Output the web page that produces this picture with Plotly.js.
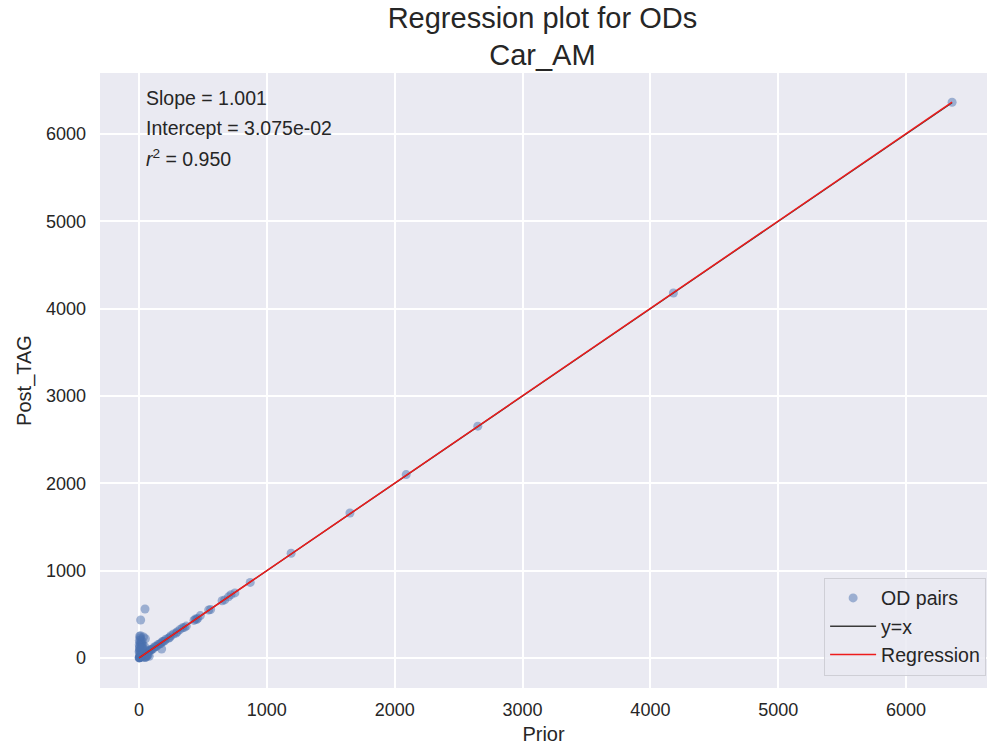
<!DOCTYPE html>
<html>
<head>
<meta charset="utf-8">
<script src="https://cdn.plot.ly/plotly-3.0.1.min.js"></script>
<style>html,body{margin:0;padding:0;background:#fff;}#chart{width:988px;height:749px;}</style>
</head>
<body>
<div id="chart"></div>
<script>
// OD pair values
const priorValues = [6360,4180,2650,2090,1650,1190,870,
  750,720,700,670,650,560,545,480,460,450,440,430,370,355,340,320,300,290,270,250,240,230,210,200,190,180,170,160,150,140,130,120,110,100,95,90,80,75,70,60,55,50,45,40,35,30,25,20,15,10,8,5,3,2,1,
  177,13,47,
  5,10,15,3,8,20,12,2,18,6,25,4,14,9,30,1,22,7,16,11,40,35,50,60,70,80,45,25,30,40,50,35,45,12,6,18,28,4,9,55,65,22];
const postValues = [6365,4180,2655,2100,1660,1200,865,
  745,725,700,665,655,555,550,485,455,440,445,430,365,350,345,325,300,285,275,255,235,225,215,195,190,185,165,160,155,135,130,125,105,100,90,95,85,70,72,65,50,55,40,45,30,32,28,22,14,12,6,4,2,3,1,
  103,435,561,
  250,230,210,200,180,170,160,150,140,130,120,110,100,90,80,70,60,50,40,30,20,10,5,15,30,20,8,190,150,100,220,240,130,255,20,60,45,85,5,25,35,115];
const slope = 1.001;
const intercept = 3.075e-02;
const r2 = 0.950;
const xTicks = [0,1000,2000,3000,4000,5000,6000];
const yTicks = [0,1000,2000,3000,4000,5000,6000];

const xMin = Math.min(...priorValues), xMax = Math.max(...priorValues);
const font = 'Liberation Sans, Arial, sans-serif';
const ink = '#262626';

const traces = [
  {x: priorValues, y: postValues, mode: 'markers', type: 'scatter', name: 'OD pairs',
   marker: {color: 'rgba(76,114,176,0.5)', size: 9, line: {width: 0}}},
  {x: [xMin, xMax], y: [xMin, xMax], mode: 'lines', type: 'scatter', name: 'y=x',
   line: {color: '#3a3a3a', width: 1.3}},
  {x: [xMin, xMax], y: [slope*xMin + intercept, slope*xMax + intercept], mode: 'lines', type: 'scatter', name: 'Regression',
   line: {color: '#ee1c1c', width: 1.5}}
];

const layout = {
  width: 988, height: 749,
  paper_bgcolor: '#ffffff', plot_bgcolor: '#EAEAF2',
  margin: {l: 100, r: 1, t: 73, b: 61},
  font: {family: font, color: ink, size: 18},
  title: {text: 'Regression plot for ODs<br>Car_AM', font: {size: 29, color: ink, family: font},
          x: 0.549, xanchor: 'center', yref: 'container', y: 0.963, yanchor: 'top'},
  showlegend: true,
  legend: {x: 0.999, y: 0.02, xanchor: 'right', yanchor: 'bottom', bgcolor: 'rgba(234,234,242,0.85)',
           bordercolor: '#cfcfd6', borderwidth: 1, font: {size: 19.5, color: ink}, tracegroupgap: 0, itemwidth: 46},
  xaxis: {range: [-305, 6633], tickvals: xTicks, ticktext: xTicks.map(String), showgrid: true, gridcolor: '#ffffff', gridwidth: 2,
          zeroline: false, showline: false, ticks: '', tickfont: {size: 18, color: ink}, ticklabelstandoff: 9,
          title: {text: 'Prior', font: {size: 20, color: ink}, standoff: 7}},
  yaxis: {range: [-344, 6700], tickvals: yTicks, ticktext: yTicks.map(String), showgrid: true, gridcolor: '#ffffff', gridwidth: 2,
          zeroline: false, showline: false, ticks: '', tickfont: {size: 18, color: ink}, ticklabelstandoff: 13,
          title: {text: 'Post_TAG', font: {size: 20, color: ink}, standoff: 8}},
  annotations: [
    {xref: 'paper', yref: 'paper', x: 0.05, y: 0.959, xanchor: 'left', yanchor: 'middle', showarrow: false,
     text: 'Slope = ' + slope.toFixed(3), font: {size: 19.5, color: ink}},
    {xref: 'paper', yref: 'paper', x: 0.05, y: 0.910, xanchor: 'left', yanchor: 'middle', showarrow: false,
     text: 'Intercept = ' + intercept.toExponential(3).replace('e-2', 'e-02'), font: {size: 19.5, color: ink}},
    {xref: 'paper', yref: 'paper', x: 0.05, y: 0.861, xanchor: 'left', yanchor: 'middle', showarrow: false,
     text: '<i>r</i><sup>2</sup> = ' + r2.toFixed(3), font: {size: 19.5, color: ink}}
  ]
};
Plotly.newPlot('chart', traces, layout, {displayModeBar: false, staticPlot: true});
</script>
</body>
</html>
